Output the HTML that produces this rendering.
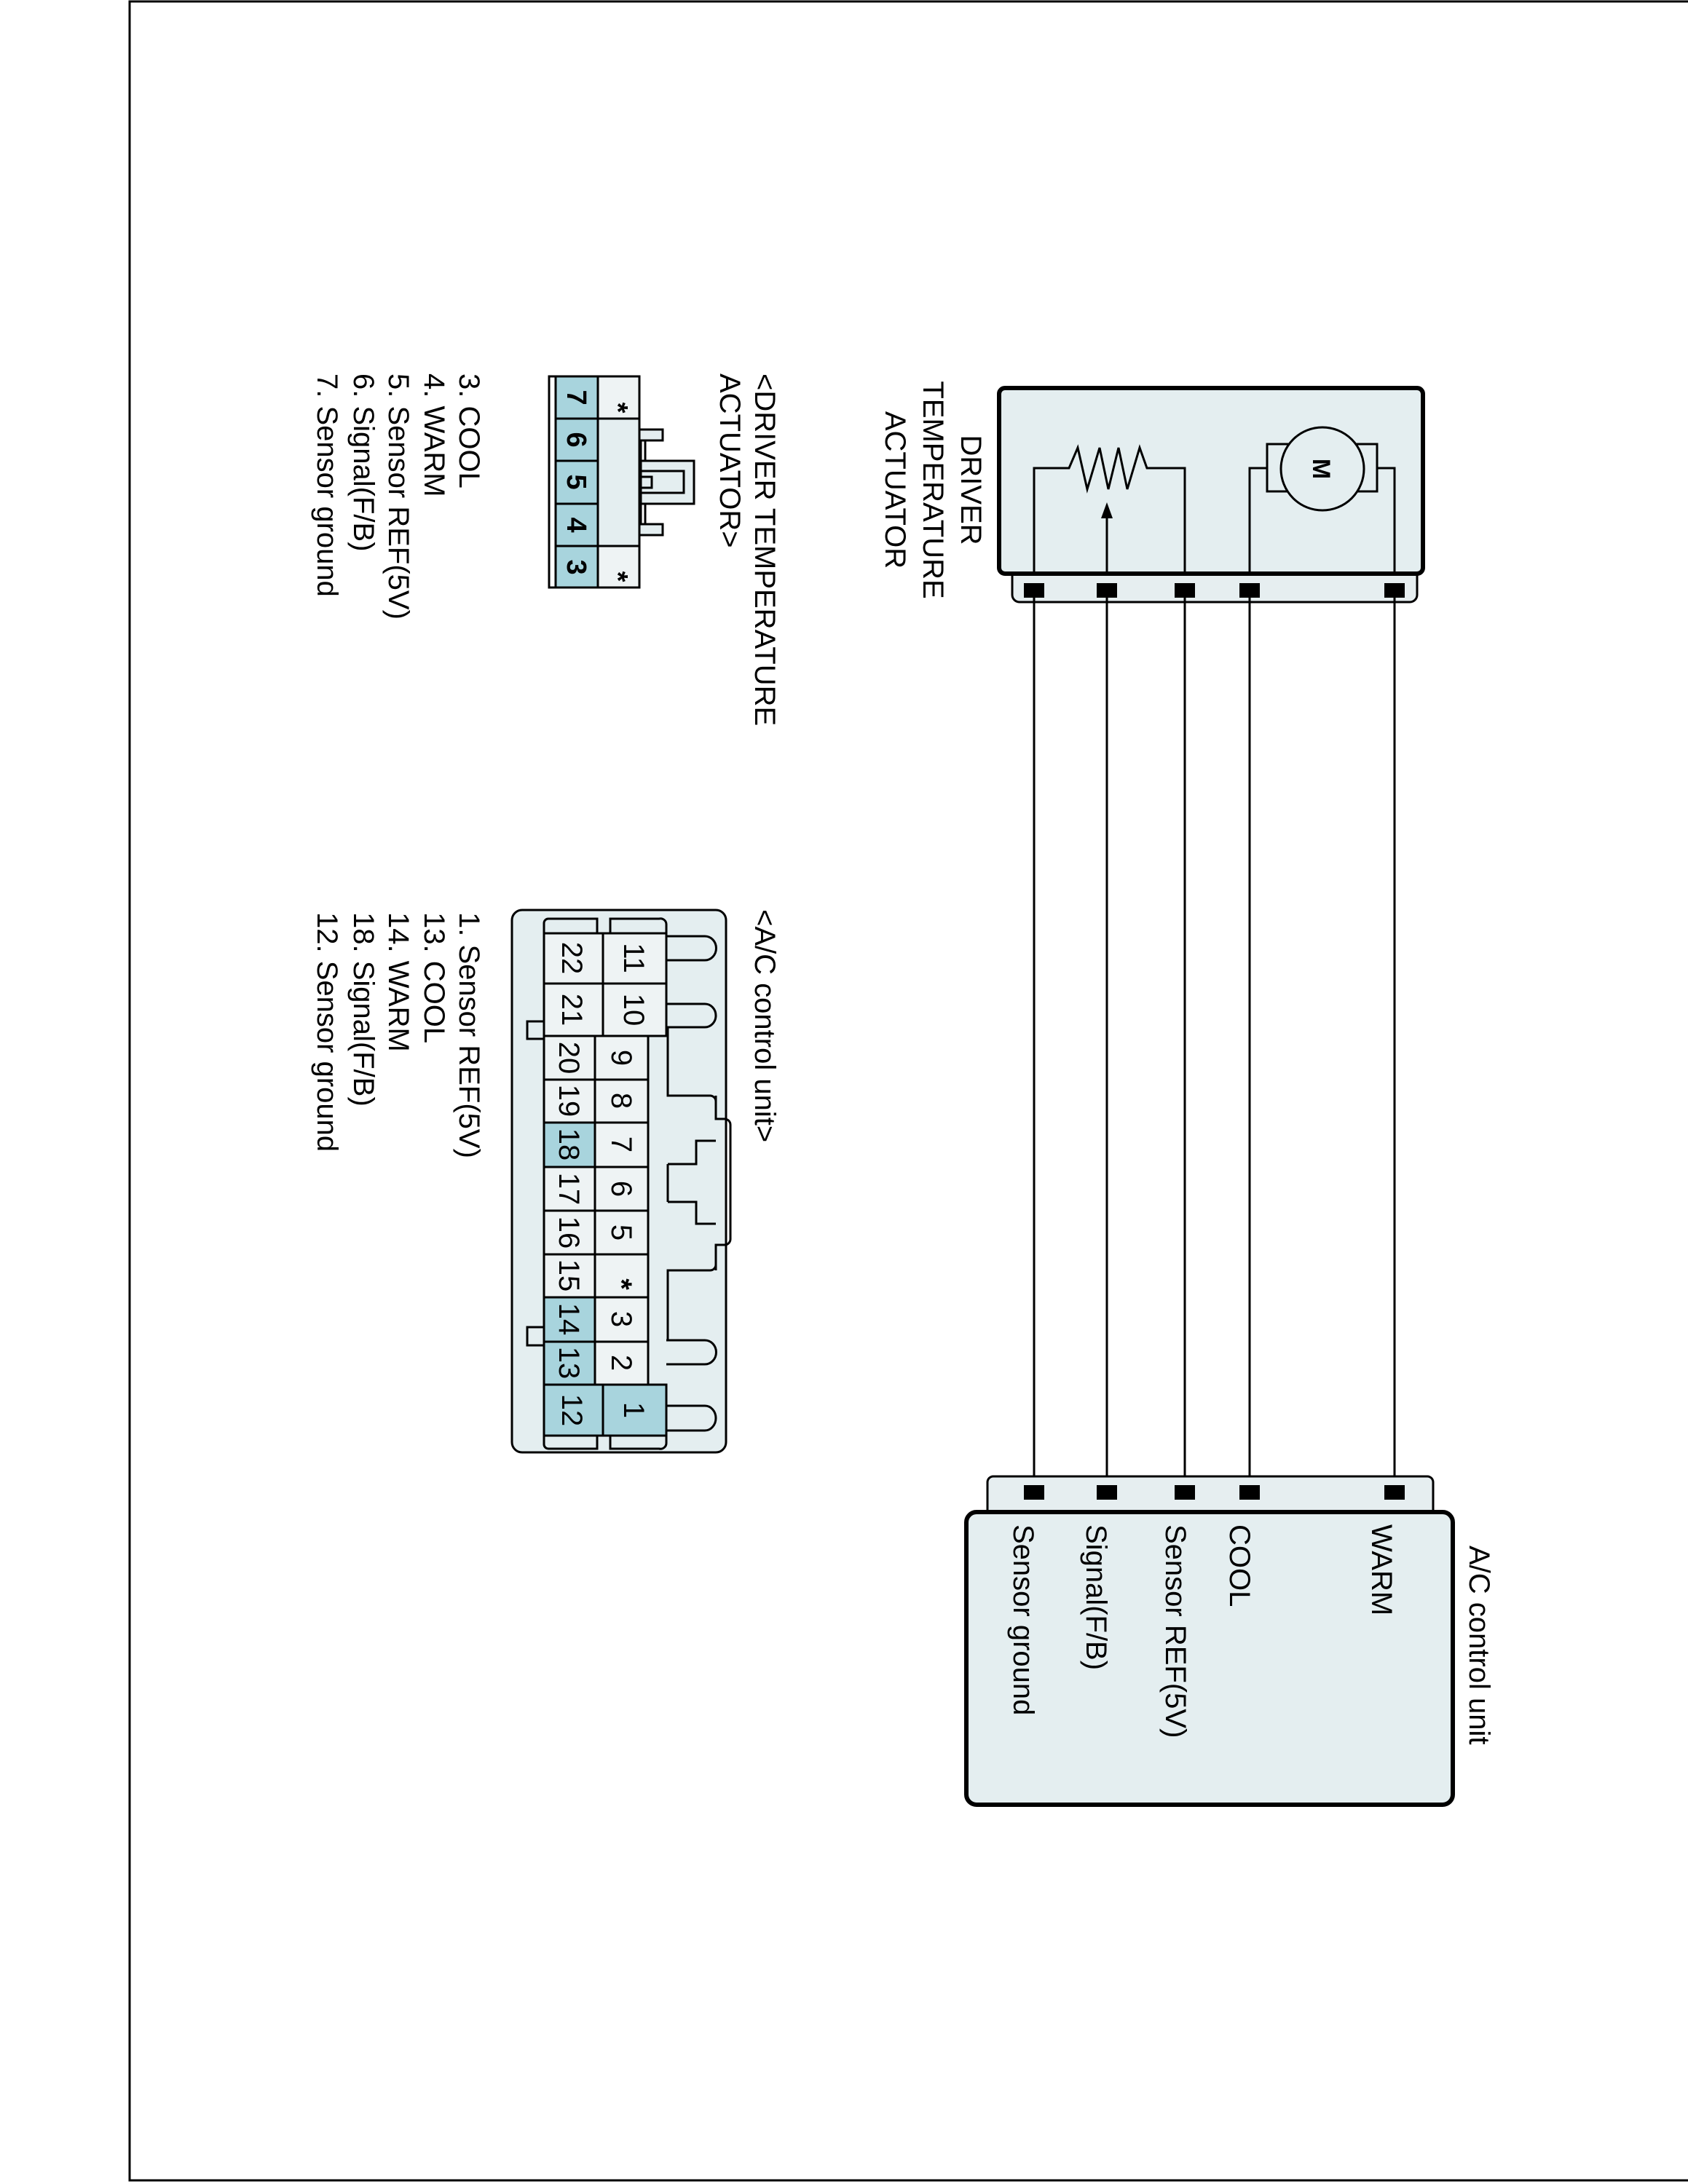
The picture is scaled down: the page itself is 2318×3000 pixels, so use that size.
<!DOCTYPE html>
<html><head><meta charset="utf-8"><style>
html,body{margin:0;padding:0;background:#fff}
svg{display:block}
text{font-family:"Liberation Sans",Arial,sans-serif;fill:#000}
</style></head><body>
<svg width="2318" height="3000" viewBox="0 0 2318 3000" xmlns="http://www.w3.org/2000/svg">
<rect x="178" y="2" width="2160" height="2993" fill="none" stroke="#000" stroke-width="3"/>

<!-- Actuator -->
<rect x="1390" y="775" width="556" height="52" rx="10" fill="#e6eef0" stroke="#000" stroke-width="3"/>
<rect x="1372" y="533" width="582" height="255" rx="8" fill="#e4eef0" stroke="#000" stroke-width="6"/>
<g fill="none" stroke="#000" stroke-width="3">
<polyline points="1420,788 1420,643 1468,643 1480,615 1493,672 1510,615 1522,672 1536,615 1548,672 1565,615 1575,643 1627,643 1627,788"/>
<line x1="1520" y1="788" x2="1520" y2="705"/>
<polyline points="1716,788 1716,643 1740,643"/>
<polyline points="1915,788 1915,643 1891,643"/>
<rect x="1740" y="610" width="151" height="65" fill="#e4eef0"/>
<ellipse cx="1816" cy="644" rx="57" ry="57" fill="#e4eef0"/>
</g>
<polygon points="1520,690 1512,712 1528,712" fill="#000"/>
<text transform="translate(1803,644) rotate(90)" font-size="34" font-weight="bold" text-anchor="middle">M</text>

<!-- wires -->
<g stroke="#000" stroke-width="3">
<line x1="1420" y1="811" x2="1420" y2="2050"/>
<line x1="1520" y1="811" x2="1520" y2="2050"/>
<line x1="1627" y1="811" x2="1627" y2="2050"/>
<line x1="1716" y1="811" x2="1716" y2="2050"/>
<line x1="1915" y1="811" x2="1915" y2="2050"/>
</g>
<g fill="#000">
<rect x="1406" y="801" width="28" height="20"/><rect x="1506" y="801" width="28" height="20"/><rect x="1613" y="801" width="28" height="20"/><rect x="1702" y="801" width="28" height="20"/><rect x="1901" y="801" width="28" height="20"/>
</g>

<!-- ECU -->
<rect x="1356" y="2028" width="612" height="62" rx="8" fill="#e6eef0" stroke="#000" stroke-width="3"/>
<rect x="1327" y="2077" width="668" height="402" rx="14" fill="#e4eef0" stroke="#000" stroke-width="6"/>
<g fill="#000">
<rect x="1406" y="2040" width="28" height="20"/><rect x="1506" y="2040" width="28" height="20"/><rect x="1613" y="2040" width="28" height="20"/><rect x="1702" y="2040" width="28" height="20"/><rect x="1901" y="2040" width="28" height="20"/>
</g>
<g font-size="40">
<text transform="translate(2018,2123) rotate(90)">A/C control unit</text>
<text transform="translate(1884,2094) rotate(90)">WARM</text>
<text transform="translate(1689,2094) rotate(90)">COOL</text>
<text transform="translate(1601,2094) rotate(90)">Sensor REF(5V)</text>
<text transform="translate(1492,2094) rotate(90)">Signal(F/B)</text>
<text transform="translate(1392,2094) rotate(90)">Sensor ground</text>
<text transform="translate(1320,673) rotate(90)" text-anchor="middle">DRIVER</text>
<text transform="translate(1268,673) rotate(90)" text-anchor="middle">TEMPERATURE</text>
<text transform="translate(1216,673) rotate(90)" text-anchor="middle">ACTUATOR</text>
<text transform="translate(1037,513) rotate(90)">&lt;DRIVER TEMPERATURE</text>
<text transform="translate(989,513) rotate(90)">ACTUATOR&gt;</text>
<text transform="translate(631,513) rotate(90)">3. COOL</text>
<text transform="translate(583,513) rotate(90)">4. WARM</text>
<text transform="translate(534,513) rotate(90)">5. Sensor REF(5V)</text>
<text transform="translate(486,513) rotate(90)">6. Signal(F/B)</text>
<text transform="translate(436,513) rotate(90)">7. Sensor ground</text>
<text transform="translate(1037,1249) rotate(90)">&lt;A/C control unit&gt;</text>
<text transform="translate(631,1253) rotate(90)">1. Sensor REF(5V)</text>
<text transform="translate(583,1253) rotate(90)">13. COOL</text>
<text transform="translate(534,1253) rotate(90)">14. WARM</text>
<text transform="translate(486,1253) rotate(90)">18. Signal(F/B)</text>
<text transform="translate(436,1253) rotate(90)">12. Sensor ground</text>
</g>

<!-- Connector 1 -->
<g stroke="#000" stroke-width="3">
<rect x="878" y="590" width="32" height="15" fill="#e4eef0"/>
<rect x="878" y="720" width="32" height="15" fill="#e4eef0"/>
<rect x="880" y="605" width="6" height="115" fill="#fff"/>
<rect x="880" y="633" width="73" height="59" fill="#e4eef0"/>
<rect x="880" y="647" width="59" height="30" fill="#e4eef0"/>
<rect x="880" y="655" width="15" height="15" fill="#e4eef0"/>
<rect x="754" y="517" width="124" height="290" fill="#e4eef0"/>
<rect x="754" y="517" width="9" height="290" fill="#fff"/>
<rect x="763" y="517" width="58" height="58" fill="#a8d4dd"/>
<rect x="763" y="575" width="58" height="58" fill="#a8d4dd"/>
<rect x="763" y="633" width="58" height="59" fill="#a8d4dd"/>
<rect x="763" y="692" width="58" height="58" fill="#a8d4dd"/>
<rect x="763" y="750" width="58" height="57" fill="#a8d4dd"/>
<rect x="821" y="517" width="57" height="58" fill="#eef3f4"/>
<rect x="821" y="750" width="57" height="57" fill="#eef3f4"/>
</g>
<g font-size="38" font-weight="bold" text-anchor="middle">
<text transform="translate(779,546) rotate(90)">7</text>
<text transform="translate(779,604) rotate(90)">6</text>
<text transform="translate(779,662) rotate(90)">5</text>
<text transform="translate(779,721) rotate(90)">4</text>
<text transform="translate(779,779) rotate(90)">3</text>
<text transform="translate(836,560) rotate(90)">*</text>
<text transform="translate(836,792) rotate(90)">*</text>
</g>

<!-- Connector 2 -->
<g stroke="#000" stroke-width="3">
<rect x="703" y="1250" width="294" height="745" rx="14" fill="#e4eef0"/>
<rect x="724" y="1403" width="30" height="24" fill="#e4eef0"/>
<rect x="724" y="1823" width="30" height="25" fill="#e4eef0"/>
<path d="M915,1286 H968 A15,16 0 0 1 968,1319 H915" fill="#e4eef0"/>
<path d="M915,1379 H968 A15,16 0 0 1 968,1411 H915" fill="#e4eef0"/>
<path d="M915,1841 H968 A15,16 0 0 1 968,1874 H915" fill="#e4eef0"/>
<path d="M915,1931 H968 A15,17 0 0 1 968,1965 H915" fill="#e4eef0"/>
<path d="M917,1411 V1505 H975 A8,8 0 0 1 983,1513 V1530" fill="none"/>
<path d="M983,1720 V1737 A8,8 0 0 1 975,1745 H917 V1841" fill="none"/>
<path d="M983,1530 V1537 H995 A8,8 0 0 1 1003,1545 V1702 A8,8 0 0 1 995,1710 H983 V1720" fill="none"/>
<path d="M983,1505 V1530 M983,1720 V1745" fill="none"/>
<path d="M917,1599 H956 V1567 H983 M917,1651 H956 V1681 H983 M917,1599 V1651" fill="none"/>
<path d="M747,1282 V1268 A6,6 0 0 1 753,1262 H820 V1282 M838,1282 V1262 H905 A8,8 0 0 1 915,1270 V1282" fill="none"/>
<path d="M747,1972 V1984 A6,6 0 0 0 753,1990 H820 V1972 M838,1972 V1990 H905 A8,8 0 0 0 915,1982 V1972" fill="none"/>
<rect x="747" y="1282" width="81" height="69" fill="#eef3f4"/>
<rect x="747" y="1351" width="81" height="72" fill="#eef3f4"/>
<rect x="828" y="1282" width="87" height="69" fill="#eef3f4"/>
<rect x="828" y="1351" width="87" height="72" fill="#eef3f4"/>
<rect x="747" y="1902" width="81" height="70" fill="#a8d4dd"/>
<rect x="828" y="1902" width="87" height="70" fill="#a8d4dd"/>
</g>
<g stroke="#000" stroke-width="3">
<rect x="747" y="1423" width="70" height="60" fill="#eef3f4"/>
<rect x="747" y="1483" width="70" height="59" fill="#eef3f4"/>
<rect x="747" y="1542" width="70" height="61" fill="#a8d4dd"/>
<rect x="747" y="1603" width="70" height="60" fill="#eef3f4"/>
<rect x="747" y="1663" width="70" height="60" fill="#eef3f4"/>
<rect x="747" y="1723" width="70" height="59" fill="#eef3f4"/>
<rect x="747" y="1782" width="70" height="61" fill="#a8d4dd"/>
<rect x="747" y="1843" width="70" height="59" fill="#a8d4dd"/>
<rect x="817" y="1423" width="73" height="60" fill="#eef3f4"/>
<rect x="817" y="1483" width="73" height="59" fill="#eef3f4"/>
<rect x="817" y="1542" width="73" height="61" fill="#eef3f4"/>
<rect x="817" y="1603" width="73" height="60" fill="#eef3f4"/>
<rect x="817" y="1663" width="73" height="60" fill="#eef3f4"/>
<rect x="817" y="1723" width="73" height="59" fill="#eef3f4"/>
<rect x="817" y="1782" width="73" height="61" fill="#eef3f4"/>
<rect x="817" y="1843" width="73" height="59" fill="#eef3f4"/>
</g>
<g font-size="40" text-anchor="middle">
<text transform="translate(772,1316) rotate(90)">22</text>
<text transform="translate(772,1387) rotate(90)">21</text>
<text transform="translate(857,1316) rotate(90)">11</text>
<text transform="translate(857,1387) rotate(90)">10</text>
<text transform="translate(768,1453) rotate(90)">20</text>
<text transform="translate(768,1512) rotate(90)">19</text>
<text transform="translate(768,1572) rotate(90)">18</text>
<text transform="translate(768,1633) rotate(90)">17</text>
<text transform="translate(768,1693) rotate(90)">16</text>
<text transform="translate(768,1752) rotate(90)">15</text>
<text transform="translate(768,1812) rotate(90)">14</text>
<text transform="translate(768,1872) rotate(90)">13</text>
<text transform="translate(840,1453) rotate(90)">9</text>
<text transform="translate(840,1512) rotate(90)">8</text>
<text transform="translate(840,1572) rotate(90)">7</text>
<text transform="translate(840,1633) rotate(90)">6</text>
<text transform="translate(840,1693) rotate(90)">5</text>
<text transform="translate(840,1764) rotate(90)" font-weight="bold">*</text>
<text transform="translate(840,1812) rotate(90)">3</text>
<text transform="translate(840,1872) rotate(90)">2</text>
<text transform="translate(772,1937) rotate(90)">12</text>
<text transform="translate(857,1937) rotate(90)">1</text>
</g>
</svg>
</body></html>
